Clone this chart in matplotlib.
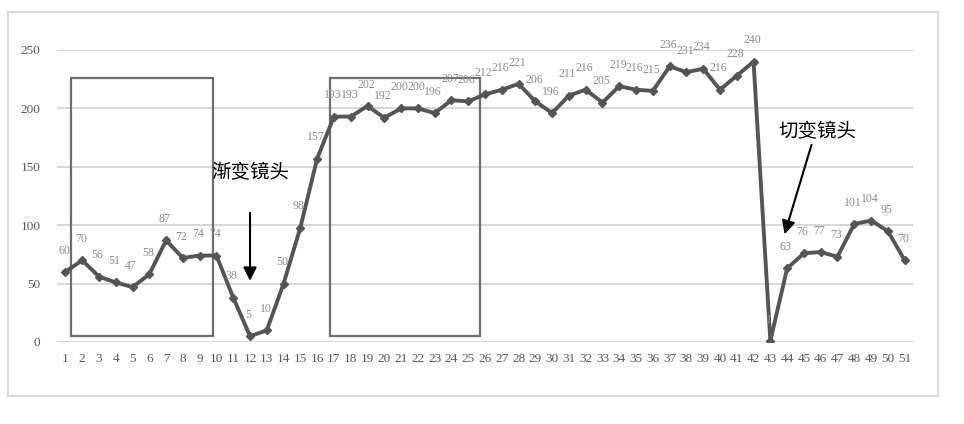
"""
plot.py
Shot-boundary frame difference chart (gradual vs. cut transition)
"""

import numpy as np
import matplotlib
matplotlib.use('Agg')
import matplotlib.pyplot as plt
from matplotlib.patches import Rectangle

# Data
frames = list(range(1, 52))
values = [60, 70, 56, 51, 47, 58, 87, 72, 74, 74,
          38, 5, 10, 50, 98, 157, 193, 193, 202, 192,
          200, 200, 196, 207, 206, 212, 216, 221, 206, 196,
          211, 216, 205, 219, 216, 215, 236, 231, 234, 216,
          228, 240, 1, 63, 76, 77, 73, 101, 104, 95, 70]
y_ticks = [0, 50, 100, 150, 200, 250]

# Boxes marking stable segments (x0, x1, y0, y1)
boxes = [(1.36, 9.8, 5, 226), (16.77, 25.7, 5, 226)]

# Annotations
notes = [('渐变镜头', (12.0, 50), (12.0, 113), (12.0, 145)),
         ('切变镜头', (43.8, 90), (45.5, 171), (45.8, 180))]

line_col = '#555555'
label_col = '#8c8c8c'
grid_col = '#d9d9d9'
serif = 'Liberation Serif'
cjk = ['Noto Sans CJK SC', 'DejaVu Sans']

fig = plt.figure(figsize=(9.64, 4.24), dpi=100)
ax = fig.add_axes([57/964, 82/424, (913-57)/964, (374-82)/424])

# Outer frame of the chart
fig.patches.append(Rectangle((8/964, 28/424), 930/964, 384/424,
                             transform=fig.transFigure, fill=False,
                             edgecolor=grid_col, lw=1.5))

# Grid
for y in y_ticks:
    ax.axhline(y, color=grid_col, lw=1.5, zorder=0)

ax.plot(frames, values, color=line_col, lw=2.8, marker='D', ms=3.8,
        zorder=3)

for x, v in zip(frames, values):
    ax.annotate(str(v), (x, v), xytext=(-1, 11), textcoords='offset points',
                ha='center', va='bottom', fontsize=8.5, color=label_col,
                family=serif)

for x0, x1, y0, y1 in boxes:
    ax.add_patch(Rectangle((x0, y0), x1 - x0, y1 - y0, fill=False,
                           edgecolor='#6e6e6e', lw=1.6, zorder=2))

for text, tip, tail, txt_pos in notes:
    ax.annotate('', xy=tip, xytext=tail,
                arrowprops=dict(arrowstyle='-|>', color='black', lw=1.5,
                                mutation_scale=20))
    ax.text(txt_pos[0], txt_pos[1], text, ha='center', va='center',
            fontsize=14, family=cjk, color='black')

ax.set_xlim(0.5, 51.5)
ax.set_ylim(0, 250)
ax.set_xticks(frames)
ax.set_xticklabels([str(f) for f in frames])
ax.set_yticks(y_ticks)
for lab in ax.get_xticklabels() + ax.get_yticklabels():
    lab.set_family(serif)
    lab.set_fontsize(9.5)
    lab.set_color('#595959')
ax.tick_params(axis='both', length=0, pad=8)
ax.tick_params(axis='y', pad=12)
for s in ax.spines.values():
    s.set_visible(False)

fig.savefig('out.png', dpi=100)
